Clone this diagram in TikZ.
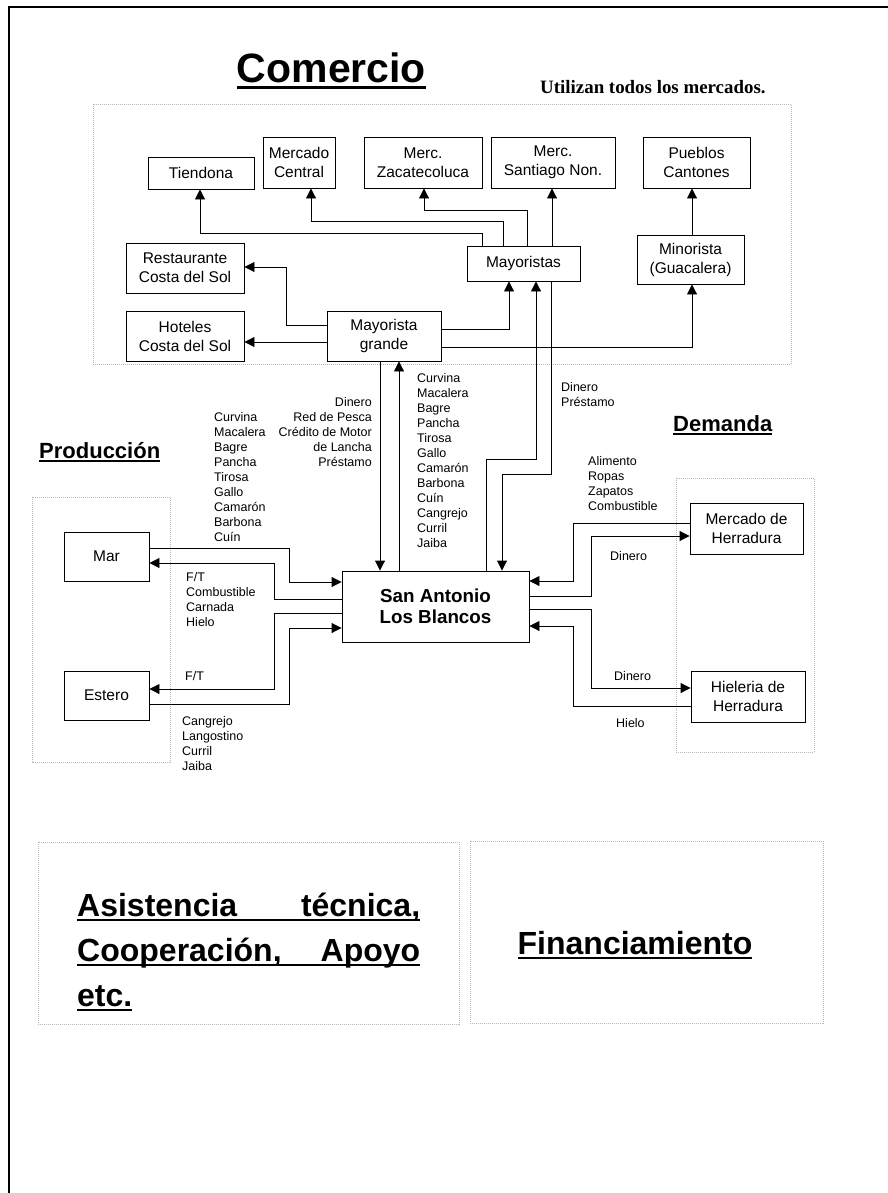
\documentclass[tikz,border=0pt]{standalone}
\usepackage{fontspec}
\setmainfont{Liberation Sans}
\newfontfamily\timesf{Liberation Serif}
\usetikzlibrary{arrows.meta}
\newcommand{\myul}[3]{\setbox0=\hbox{#3}\leavevmode\rlap{\copy0}\rule[-#2]{\wd0}{#1}}
\begin{document}
\begin{tikzpicture}[x=1pt,y=-1pt,
  box/.style={draw, line width=0.9pt, inner sep=0pt, align=center, font=\fontsize{15.5}{19}\selectfont},
  sabox/.style={draw, line width=0.9pt, inner sep=0pt, align=center, font=\fontsize{18.8}{21}\selectfont\bfseries},
  arr/.style={line width=0.9pt, -{Triangle[length=10pt,width=10pt]}},
  lbl/.style={inner sep=0pt, font=\fontsize{12.5}{15}\selectfont},
  panel/.style={draw=black!28, line width=0.7pt, dash pattern=on 1pt off 1pt},
  ttl/.style={inner sep=0pt, anchor=base west, font=\fontsize{22}{26}\selectfont\bfseries},
  big/.style={inner sep=0pt, anchor=base west, font=\fontsize{32}{45}\selectfont\bfseries}]
\useasboundingbox (0,0) rectangle (888,1193);
% frame
\draw[line width=2pt] (9,1193) -- (9,7) -- (888,7);
% panels
\draw[panel] (93,104) rectangle (791,364);
\draw[panel] (32,497) rectangle (170,762);
\draw[panel] (676,478) rectangle (814,752);
\draw[panel] (38,842) rectangle (459,1024);
\draw[panel] (470,841) rectangle (823,1023);
% titles
\node[inner sep=0pt, anchor=base, font=\fontsize{41}{48}\selectfont\bfseries] (com) at (331.5,83) {\myul{3pt}{6pt}{Comercio}};
\node[inner sep=0pt, anchor=base west, font=\fontsize{18.9}{22}\timesf\bfseries] (uti) at (540,94) {Utilizan todos los mercados.};
\node[ttl] (prod) at (39,458) {\myul{2pt}{4pt}{Producción}};
\node[ttl] (dem) at (673,431) {\myul{2pt}{4pt}{Demanda}};
% comercio boxes
\node[box, minimum width=106pt, minimum height=32pt] (T) at (201,173) {Tiendona};
\node[box, minimum width=72pt, minimum height=51pt] (MC) at (299,162.5) {Mercado\\Central};
\node[box, minimum width=118pt, minimum height=51pt] (Z) at (423,162.5) {Merc.\\Zacatecoluca};
\node[box, minimum width=124pt, minimum height=51pt] (S) at (553,162.5) {Merc.\\Santiago Non.};
\node[box, minimum width=107pt, minimum height=51pt] (P) at (696.5,162.5) {Pueblos\\Cantones};
\node[box, minimum width=113pt, minimum height=35pt] (May) at (523.5,263.5) {Mayoristas};
\node[box, minimum width=107pt, minimum height=49pt] (Min) at (690.5,259.5) {Minorista\\(Guacalera)};
\node[box, minimum width=118pt, minimum height=50pt] (R) at (185,268) {Restaurante\\Costa del Sol};
\node[box, minimum width=118pt, minimum height=50pt] (H) at (185,336) {Hoteles\\Costa del Sol};
\node[box, minimum width=114pt, minimum height=50pt] (MG) at (384,336) {Mayorista\\grande};
% center
\node[sabox, minimum width=187pt, minimum height=71pt] (SA) at (435.5,606.5) {San Antonio\\Los Blancos};
% production
\node[box, minimum width=85pt, minimum height=49pt] (Mar) at (106.5,556.5) {Mar};
\node[box, minimum width=85pt, minimum height=49pt] (Es) at (106.5,695.5) {Estero};
% demand
\node[box, minimum width=113pt, minimum height=51pt] (MdH) at (746.5,528.5) {Mercado de\\Herradura};
\node[box, minimum width=114pt, minimum height=51pt] (Hi) at (748,696.5) {Hieleria de\\Herradura};
% comercio connectors
\draw[arr] (MG.west |- 0,325) -| (286,267) -- (R.east |- 0,267);
\draw[arr] (MG.west |- 0,342) -- (H.east |- 0,342);
\draw[arr] (May.north -| 482,0) |- (200,233) -- (T.south -| 200,0);
\draw[arr] (May.north -| 503,0) |- (311,221) -- (MC.south -| 311,0);
\draw[arr] (May.north -| 527,0) |- (424,210) -- (Z.south -| 424,0);
\draw[arr] (May.north -| 552,0) -- (S.south -| 552,0);
\draw[arr] (Min.north -| 692,0) -- (P.south -| 692,0);
\draw[arr] (MG.east |- 0,329) -| (May.south -| 509,0);
\draw[arr] (MG.east |- 0,347) -| (Min.south -| 692,0);
\draw[arr] (SA.north -| 399,0) -- (MG.south -| 399,0);
\draw[arr] (MG.south -| 380,0) -- (SA.north -| 380,0);
\draw[arr] (SA.north -| 486,0) |- (536,459) -- (May.south -| 536,0);
\draw[arr] (May.south -| 551,0) |- (502,474) -- (SA.north -| 502,0);
% production connectors
\draw[arr] (Mar.east |- 0,548) -| (289,582) -- (SA.west |- 0,582);
\draw[arr] (SA.west |- 0,599) -| (274,563) -- (Mar.east |- 0,563);
\draw[arr] (SA.west |- 0,613) -| (274,689) -- (Es.east |- 0,689);
\draw[arr] (Es.east |- 0,704) -| (289,628) -- (SA.west |- 0,628);
% demand connectors
\draw[arr] (MdH.west |- 0,523) -| (573,581) -- (SA.east |- 0,581);
\draw[arr] (SA.east |- 0,596) -| (591,536) -- (MdH.west |- 0,536);
\draw[arr] (SA.east |- 0,609) -| (591,688) -- (Hi.west |- 0,688);
\draw[arr] (Hi.west |- 0,706) -| (573,626) -- (SA.east |- 0,626);
% labels
\node[lbl, anchor=north east, align=right] (l1) at (372,397) {Dinero\\Red de Pesca\\Crédito de Motor\\de Lancha\\Préstamo};
\node[lbl, anchor=north west, align=left] (l2) at (417,373) {Curvina\\Macalera\\Bagre\\Pancha\\Tirosa\\Gallo\\Camarón\\Barbona\\Cuín\\Cangrejo\\Curril\\Jaiba};
\node[lbl, anchor=north west, align=left] (l3) at (214,412) {Curvina\\Macalera\\Bagre\\Pancha\\Tirosa\\Gallo\\Camarón\\Barbona\\Cuín};
\node[lbl, anchor=north west, align=left] (l4) at (561,382) {Dinero\\Préstamo};
\node[lbl, anchor=north west, align=left] (l5) at (186,572) {F/T\\Combustible\\Carnada\\Hielo};
\node[lbl, anchor=north west, align=left] (l6) at (185,671) {F/T};
\node[lbl, anchor=north west, align=left] (l7) at (182,716) {Cangrejo\\Langostino\\Curril\\Jaiba};
\node[lbl, anchor=north west, align=left] (l8) at (588,456) {Alimento\\Ropas\\Zapatos\\Combustible};
\node[lbl, anchor=north west, align=left] (l9) at (610,551) {Dinero};
\node[lbl, anchor=north west, align=left] (l10) at (614,671) {Dinero};
\node[lbl, anchor=north west, align=left] (l11) at (616,718) {Hielo};
% bottom
\node[big] (a1) at (77,916) {\myul{2.5pt}{5pt}{\hbox to 343pt{Asistencia\hfill técnica,}}};
\node[big] (a2) at (77,961) {\myul{2.5pt}{5pt}{\hbox to 343pt{Cooperación,\hfill Apoyo}}};
\node[big] (a3) at (77,1006) {\myul{2.5pt}{5pt}{etc.}};
\node[big, anchor=base] (fin) at (635,954) {\myul{2.5pt}{5pt}{Financiamiento}};
\end{tikzpicture}
\end{document}
